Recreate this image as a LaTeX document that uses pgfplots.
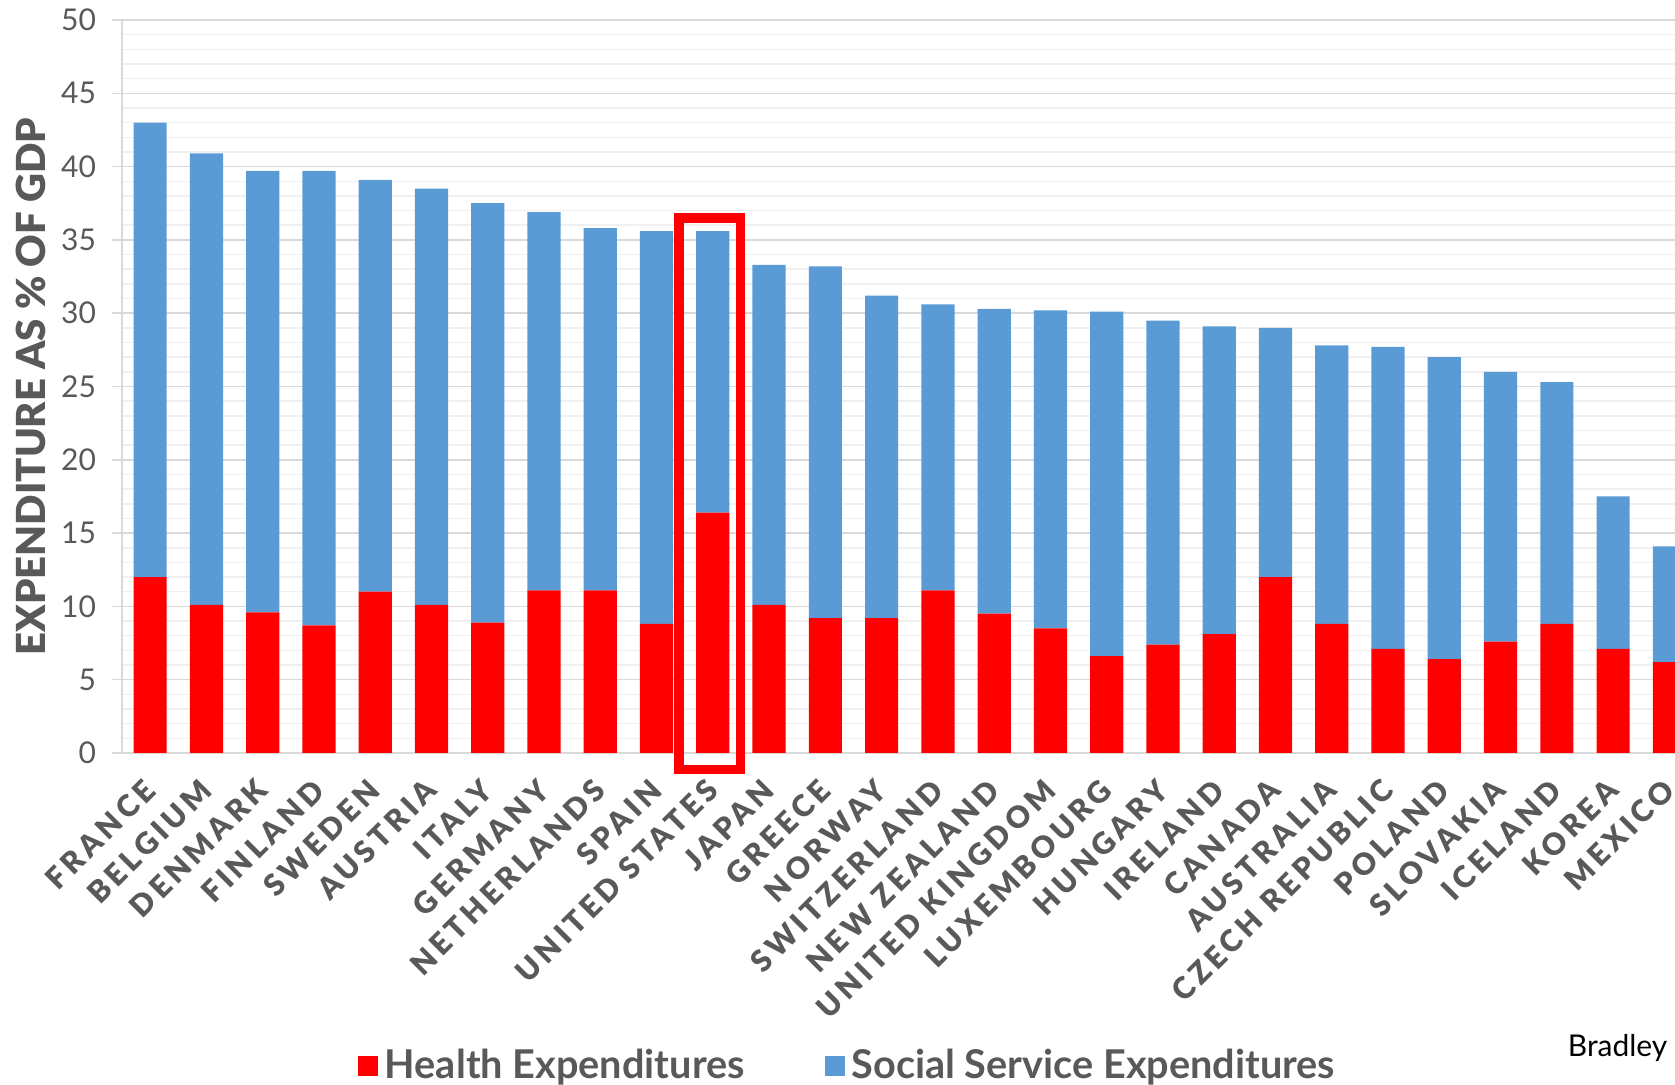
\documentclass[border=0pt]{standalone}
\usepackage{fontspec}
\setmainfont{Lato}
\newfontfamily\labfont{Lato Black}[LetterSpace=14]
\newfontfamily\heavyfont{Lato Black}
\usepackage{pgfplots}
\usepackage{pgfplotstable}
\pgfplotsset{compat=1.18}
\definecolor{cred}{HTML}{FF0000}
\definecolor{cblue}{HTML}{5B9BD5}
\definecolor{ctext}{HTML}{595959}
\definecolor{cmajor}{HTML}{D9D9D9}
\definecolor{cminor}{HTML}{F0F0F0}

\pgfplotstableread{
idx health social
0  12.0 31.0
1  10.1 30.8
2  9.6  30.1
3  8.7  31.0
4  11.0 28.1
5  10.1 28.4
6  8.9  28.6
7  11.1 25.8
8  11.1 24.7
9  8.8  26.8
10 16.4 19.2
11 10.1 23.2
12 9.2  24.0
13 9.2  22.0
14 11.1 19.5
15 9.5  20.8
16 8.5  21.7
17 6.6  23.5
18 7.4  22.1
19 8.1  21.0
20 12.0 17.0
21 8.8  19.0
22 7.1  20.6
23 6.4  20.6
24 7.6  18.4
25 8.8  16.5
26 7.1  10.4
27 6.2  7.9
}\data

\begin{document}
\begin{tikzpicture}
\useasboundingbox (-36.6pt,-99.6pt) rectangle (465.9pt,225.9pt);
\begin{axis}[
  at={(0,0)}, anchor=south west,
  scale only axis, width=465.9pt, height=219.9pt,
  clip=false,
  ybar stacked, bar width=0.59,
  xmin=-0.5, xmax=27.1, ymin=0, ymax=50,
  ytick={0,5,...,50}, minor y tick num=4,
  ymajorgrids, yminorgrids,
  major grid style={cmajor, line width=0.45pt},
  minor grid style={cminor, line width=0.45pt},
  axis x line*=bottom, axis y line*=left,
  axis line style={cmajor, line width=0.45pt},
  xtick={0,...,27},
  xticklabels={FRANCE,BELGIUM,DENMARK,FINLAND,SWEDEN,AUSTRIA,ITALY,GERMANY,NETHERLANDS,SPAIN,UNITED STATES,JAPAN,GREECE,NORWAY,SWITZERLAND,NEW ZEALAND,UNITED KINGDOM,LUXEMBOURG,HUNGARY,IRELAND,CANADA,AUSTRALIA,CZECH REPUBLIC,POLAND,SLOVAKIA,ICELAND,KOREA,MEXICO},
  x tick style={draw=none},
  y tick style={cmajor, line width=0.45pt},
  tick align=outside, major tick length=3pt, minor tick length=0pt,
  /pgf/number format/assume math mode=true,
  yticklabel style={font=\fontsize{9}{9}\selectfont, text=ctext, anchor=east, inner sep=0pt, xshift=-4.6pt},
  xticklabel style={font=\labfont\fontsize{9}{9}\selectfont, text=ctext, yshift=-6.5pt, rotate=45, anchor=east, inner sep=0pt},
  ylabel={EXPENDITURE AS \% OF GDP},
  every axis y label/.style={at={(axis description cs:-0.0584,0.5)}, rotate=90, anchor=center,
    font=\heavyfont\fontsize{12}{12}\selectfont, text=ctext},
  legend style={at={(axis description cs:0.4688,-0.427)}, anchor=center, draw=none, fill=none,
    font=\bfseries\fontsize{11.9}{12}\selectfont, text=ctext,
    /tikz/every even column/.append style={column sep=22pt}},
  legend columns=2,
  legend image code/.code={\fill[#1] (0pt,-3pt) rectangle (6pt,3pt);},
]
\addplot[fill=cred, draw=none] table[x=idx, y=health] {\data};
\addlegendentry{Health Expenditures}
\addplot[fill=cblue, draw=none] table[x=idx, y=social] {\data};
\addlegendentry{Social Service Expenditures}
\draw[cred, line width=2.85pt] (axis cs:9.40,-1.13) rectangle (axis cs:10.49,36.5);
\node[anchor=east, inner sep=0pt, font=\fontsize{9}{10}\selectfont, text=black] at (axis description cs:0.9955,-0.4025) {Bradley};
\end{axis}
\end{tikzpicture}
\end{document}
